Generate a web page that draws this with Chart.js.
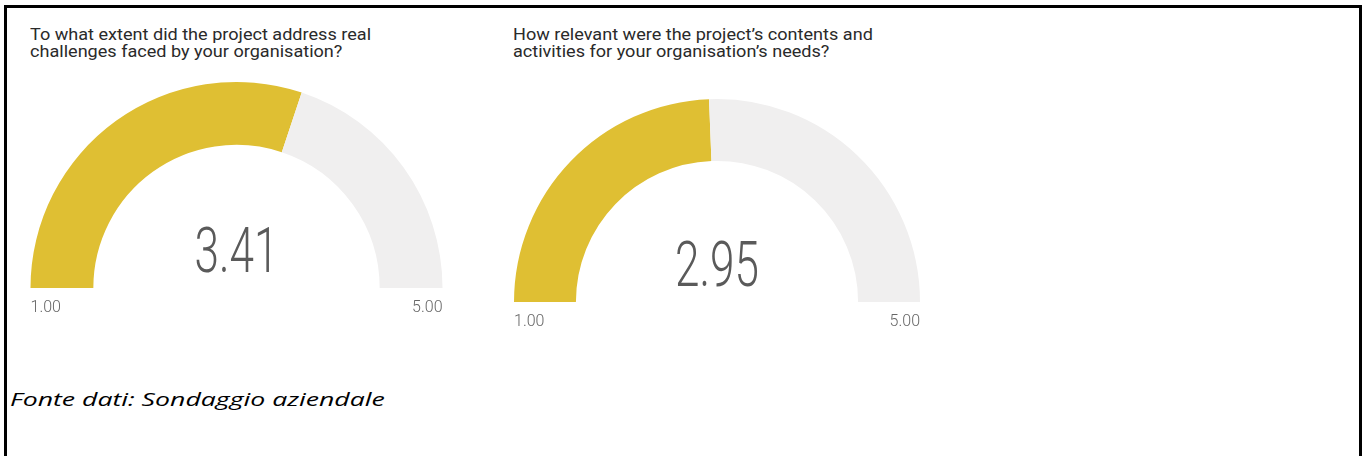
<!DOCTYPE html>
<html>
<head>
<meta charset="utf-8">
<script src="https://cdn.jsdelivr.net/npm/chart.js@4"></script>
<style>
    html, body { margin: 0; padding: 0; background: #fff; width: 1363px; height: 456px; overflow: hidden; }
    .frame { position: absolute; left: 4px; top: 5px; width: 1352px; height: 500px; border: 3px solid #000; }
    .title { position: absolute; font-family: Roboto, sans-serif; font-size: 16px; line-height: 17px; color: #2a2a2a; white-space: nowrap; transform: scaleX(1.13); transform-origin: 0 0; }
    canvas { position: absolute; }
    .source { position: absolute; left: 10px; top: 387px; font-family: "Open Sans", sans-serif; font-style: italic; font-size: 18px; line-height: 24px; color: #000; white-space: nowrap; transform: scaleX(1.48); transform-origin: 0 0; }
</style>
</head>
<body>
<div class="frame"></div>
<div class="title" id="title0" style="left:30px; top:26px;"></div>
<div class="title" id="title1" style="left:513px; top:26px;"></div>
<canvas id="gauge0" width="440" height="260" style="left:20px; top:70px;"></canvas>
<canvas id="gauge1" width="440" height="260" style="left:500px; top:85px;"></canvas>
<div class="source">Fonte dati: Sondaggio aziendale</div>
<script>
const gaugeTitles = [
    ['To what extent did the project address real', 'challenges faced by your organisation?'],
    ['How relevant were the project\u2019s contents and', 'activities for your organisation\u2019s needs?']
];
const gaugeValues = [3.41, 2.95];
const gaugeMin = [1, 1];
const gaugeMax = [5, 5];

const fillColor = '#DFBF33';
const trackColor = '#F0EFEF';

// padding puts each half ring where it sits in the reference
const gaugePadding = [
    { left: 10, right: 17, top: 12, bottom: 42 },
    { left: 14, right: 20, top: 14, bottom: 43 }
];

const gaugeLabels = {
    id: 'gaugeLabels',
    afterDraw(chart, args, opts) {
        const arc = chart.getDatasetMeta(0).data[0];
        if (!arc) return;
        const { x, y, outerRadius } = arc.getProps(['x', 'y', 'outerRadius'], true);
        const ctx = chart.ctx;
        ctx.save();
        // big value, narrowed to look like DIN light
        ctx.fillStyle = '#5a5a5a';
        ctx.font = '300 63px Roboto';
        ctx.textAlign = 'center';
        ctx.textBaseline = 'alphabetic';
        ctx.translate(x, y - 16);
        ctx.scale(0.7, 1);
        ctx.fillText(opts.value.toFixed(2), 0, 0);
        ctx.restore();

        ctx.save();
        ctx.fillStyle = '#666';
        ctx.font = '300 16px Roboto';
        ctx.textBaseline = 'top';
        ctx.textAlign = 'left';
        ctx.fillText(opts.min.toFixed(2), x - outerRadius, y + 12);
        ctx.textAlign = 'right';
        ctx.fillText(opts.max.toFixed(2), x + outerRadius, y + 12);
        ctx.restore();
    }
};

function makeGauge(i) {
    document.getElementById('title' + i).innerHTML = gaugeTitles[i].join('<br>');
    const ctx = document.getElementById('gauge' + i).getContext('2d');
    return new Chart(ctx, {
        type: 'doughnut',
        data: {
            labels: ['value', 'rest'],
            datasets: [{
                data: [gaugeValues[i] - gaugeMin[i], gaugeMax[i] - gaugeValues[i]],
                backgroundColor: [fillColor, trackColor],
                borderWidth: 0
            }]
        },
        options: {
            responsive: false,
            animation: false,
            rotation: -90,
            circumference: 180,
            cutout: '69.5%',
            layout: { padding: gaugePadding[i] },
            plugins: {
                legend: { display: false },
                tooltip: { enabled: false },
                gaugeLabels: { value: gaugeValues[i], min: gaugeMin[i], max: gaugeMax[i] }
            }
        },
        plugins: [gaugeLabels]
    });
}

gaugeValues.forEach((v, i) => makeGauge(i));
</script>
</body>
</html>
